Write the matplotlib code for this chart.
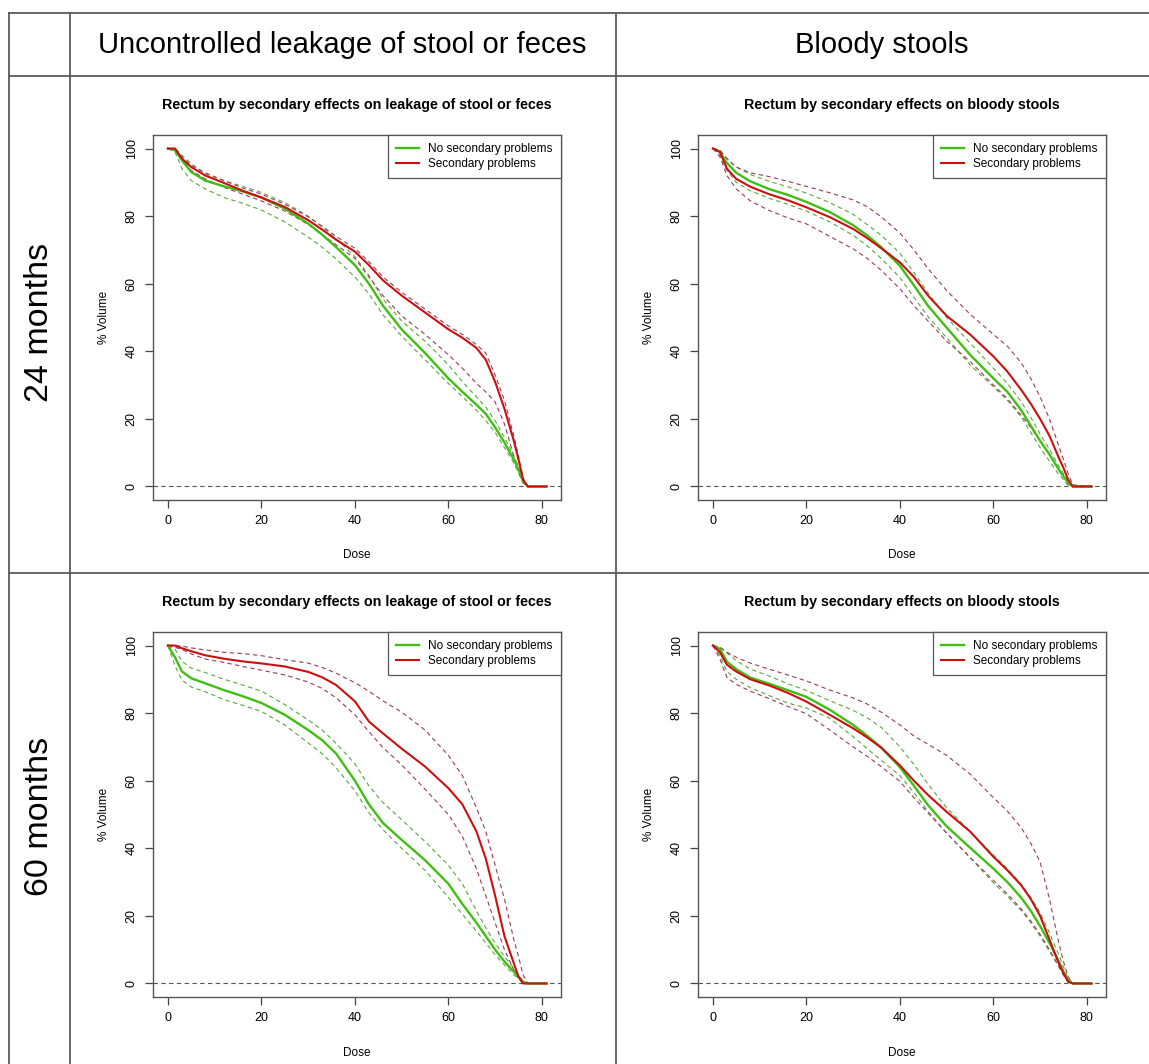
import matplotlib.pyplot as plt

plt.rcParams['font.family'] = ['Liberation Sans', 'DejaVu Sans']

# dose grid shared by every curve
dose = [0, 1.5, 3, 5, 8, 12, 16, 20, 25, 30, 33, 36, 40, 43, 46, 50, 55, 60, 63, 66, 68, 70, 72, 74, 75, 76, 77, 81]

# 24 months, leakage of stool or feces
leak24_no = [100, 99.5, 96.5, 93, 90.5, 88.8, 87.3, 85.5, 82.2, 77.8, 74.5, 70.8, 65.5, 60, 53.5, 46.5, 39.5, 32, 28, 24.2, 21.5, 17.5, 13, 8, 5, 1.5, 0, 0]
leak24_no_lo = [100, 99, 94, 90.5, 88, 85.5, 83.8, 81.8, 78.3, 73.8, 70.8, 67.3, 62, 57, 50.8, 44.5, 37.5, 30.5, 26.6, 22.6, 19.5, 16, 11.5, 7, 4, 1, 0, 0]
leak24_no_hi = [100, 100, 98, 95.5, 92.5, 90.5, 88.8, 87, 84, 80, 76.8, 73.3, 68, 62.5, 55.5, 49, 43, 36, 31, 26.5, 23.5, 19.5, 14.5, 9, 6, 2, 0, 0]
leak24_yes = [100, 100, 97, 94.5, 92, 89.8, 87.5, 85.5, 82.7, 78.8, 76, 73, 69.5, 65.5, 61, 56.5, 51.5, 46.5, 44, 41, 37.5, 31, 23, 13.5, 8, 2, 0, 0]
leak24_yes_lo = [100, 99.5, 96.5, 93.5, 91, 88.5, 86.5, 84.5, 81.5, 77.5, 74.5, 71.5, 67.5, 62, 56.5, 50.5, 45, 39, 35, 30.5, 28, 25, 18.5, 9, 4.5, 1, 0, 0]
leak24_yes_hi = [100, 100, 97.5, 95, 92.8, 90.5, 88.3, 86.5, 83.5, 79.8, 77, 74, 70.5, 66.5, 62, 57.5, 52.5, 47.5, 45, 42, 39.5, 33, 25.5, 15, 9, 2.5, 0, 0]

# 24 months, bloody stools
blood24_no = [100, 99, 95.7, 92.8, 90.3, 88, 86.3, 84.2, 81.2, 77.3, 74.3, 70.8, 65.3, 59.5, 53.5, 47, 39, 32, 28, 22.5, 18, 13.5, 9.5, 5, 3, 1, 0, 0]
blood24_no_lo = [100, 98, 93.5, 90, 87.5, 85.3, 83.5, 81.5, 78.3, 74.3, 71.2, 67.5, 61.8, 56, 50.3, 44, 36, 29.5, 25.5, 20.5, 16, 11.5, 7.5, 3.5, 2, 0.3, 0, 0]
blood24_no_hi = [100, 99.5, 97, 94.5, 92.3, 90.3, 88.7, 86.8, 84, 80.5, 77.5, 74.3, 69, 63.3, 57.3, 50, 42.5, 35, 30.5, 25, 20.5, 15.5, 11, 6, 3.8, 1.5, 0, 0]
blood24_yes = [100, 99, 94, 91, 88.7, 86.5, 84.7, 82.6, 79.7, 76.2, 73.5, 70.5, 66.3, 62, 56.5, 50.5, 45, 38.5, 34, 28.5, 24.5, 20, 15, 8.5, 5.5, 2, 0, 0]
blood24_yes_lo = [100, 97.5, 92, 88, 84.5, 81.7, 79.5, 77.7, 74, 70.3, 67.5, 64, 58.5, 53.5, 49, 43, 37, 30, 26, 21, 17.5, 13.5, 9.5, 5, 3, 0.8, 0, 0]
blood24_yes_hi = [100, 99.5, 97, 94.5, 92.8, 91.7, 90.3, 88.8, 86.9, 84.8, 82.8, 79.8, 75, 70, 64.5, 58, 51, 45, 41.5, 36.5, 32, 26.5, 20, 12, 8, 3.8, 0.5, 0]

# 60 months, leakage of stool or feces
leak60_no = [100, 96.5, 92.3, 90.3, 88.8, 86.8, 85, 83, 79.5, 75, 72, 68, 60, 53, 47.5, 42.5, 36.5, 29.5, 23.5, 18, 14, 10, 6.5, 3.5, 2, 0.5, 0, 0]
leak60_no_lo = [100, 94, 89.8, 87.7, 86.3, 84, 82.3, 80.5, 76.5, 71.2, 68, 63.8, 57, 50.5, 45.5, 40, 33.5, 25.5, 20.5, 15.5, 12, 8.5, 5.5, 2.5, 1.5, 0, 0, 0]
leak60_no_hi = [100, 99, 95.3, 93.3, 92, 90, 88.3, 86.5, 82.5, 78, 75, 71, 65, 58.5, 53.5, 48.5, 42, 35, 29.5, 21.5, 16.5, 12, 8, 4.5, 2.5, 0.5, 0, 0]
leak60_yes = [100, 100, 99.2, 98.3, 97.1, 96.1, 95.3, 94.7, 93.8, 92.2, 90.6, 88.3, 83.5, 77.5, 74, 69.5, 64.2, 57.8, 53, 45, 37, 26, 14, 6, 2, 0, 0, 0]
leak60_yes_lo = [100, 99.5, 98.8, 97.5, 96, 95, 93.8, 92.7, 91.3, 89.2, 87.3, 84.5, 79.5, 74.5, 69.8, 64.7, 57.5, 50, 43.5, 34, 26, 18, 10, 4, 1.5, 0, 0, 0]
leak60_yes_hi = [100, 100, 99.8, 99.3, 98.7, 98, 97.6, 97, 95.8, 94.8, 93.5, 91.8, 89, 86.5, 83.6, 80.3, 75, 67.5, 61.5, 52, 45, 35, 25, 13, 8, 2.5, 0, 0]

# 60 months, bloody stools
blood60_no = [100, 99, 95.2, 93, 90.5, 88.7, 86.8, 84.8, 81, 76.5, 73.3, 69.8, 64, 58.5, 52.8, 46.5, 40.2, 34, 30, 25.3, 21.5, 17, 12, 6.5, 3.5, 1, 0, 0]
blood60_no_lo = [100, 97, 92.3, 90, 87.5, 85.2, 83, 81.5, 78.5, 73, 69.5, 66, 61.5, 56.5, 51, 44.5, 37.3, 29.8, 25.8, 21.5, 18, 14, 9.5, 5, 2.5, 0.5, 0, 0]
blood60_no_hi = [100, 99.5, 97.8, 95.5, 93, 91, 88.7, 86.7, 83.7, 80.8, 78.6, 75.8, 70, 64.8, 59, 52, 45, 38, 34, 29.3, 25.5, 21, 15, 8.5, 5, 1.5, 0, 0]
blood60_yes = [100, 98, 94.3, 92.3, 90, 88.2, 86, 83.4, 79.5, 75.5, 72.8, 69.8, 64.5, 60, 55.8, 50.8, 45, 37.5, 33.5, 29, 25, 20, 13, 6, 3, 0.5, 0, 0]
blood60_yes_lo = [100, 96, 90.5, 88.5, 86.5, 84.3, 82, 79.8, 75, 70, 67.2, 64.2, 59.8, 55, 50.5, 44.5, 37.3, 30.5, 26.5, 22, 18.5, 14.5, 10, 5, 2.5, 0.5, 0, 0]
blood60_yes_hi = [100, 99.5, 98, 96.5, 94.8, 93, 91.3, 89.5, 86.8, 84.5, 82.7, 80.3, 76.5, 73.2, 70.8, 67.5, 62, 55, 51, 46, 41.5, 36, 25, 12, 6.5, 2, 0, 0]

col_headers = ['Uncontrolled leakage of stool or feces', 'Bloody stools']
row_headers = ['24 months', '60 months']
panel_titles = ['Rectum by secondary effects on leakage of stool or feces',
                'Rectum by secondary effects on bloody stools']
legend_labels = ['No secondary problems', 'Secondary problems']

panels = [
    [(leak24_no, leak24_no_lo, leak24_no_hi, leak24_yes, leak24_yes_lo, leak24_yes_hi),
     (blood24_no, blood24_no_lo, blood24_no_hi, blood24_yes, blood24_yes_lo, blood24_yes_hi)],
    [(leak60_no, leak60_no_lo, leak60_no_hi, leak60_yes, leak60_yes_lo, leak60_yes_hi),
     (blood60_no, blood60_no_lo, blood60_no_hi, blood60_yes, blood60_yes_lo, blood60_yes_hi)],
]

GREEN = '#3fbf12'
RED = '#cc1010'
GREEN_D = '#5aa83c'
RED_D = '#9c3a5c'
GRID = '#5a5a5a'

W, H = 1149, 1064
fig = plt.figure(figsize=(W / 100, H / 100), dpi=100)

# table frame drawn in pixel coordinates
bg = fig.add_axes([0, 0, 1, 1])
bg.set_xlim(0, W)
bg.set_ylim(H, 0)
bg.axis('off')
for y in [13, 76, 573]:
    bg.plot([9, W], [y, y], color=GRID, lw=1.3)
for x in [9, 70, 615.5]:
    bg.plot([x, x], [13, H], color=GRID, lw=1.3)

bg.text(342.5, 45, col_headers[0], ha='center', va='center', fontsize=21)
bg.text(882, 45, col_headers[1], ha='center', va='center', fontsize=21)
bg.text(40, 322, row_headers[0], ha='center', va='center', fontsize=24.5, rotation=90)
bg.text(40, 816, row_headers[1], ha='center', va='center', fontsize=24.5, rotation=90)

ax_left = [153, 698]
ax_top = [135, 632]
ax_w, ax_h = 408, 365

for r in range(2):
    for c in range(2):
        no, no_lo, no_hi, yes, yes_lo, yes_hi = panels[r][c]
        ax = fig.add_axes([ax_left[c] / W, 1 - (ax_top[r] + ax_h) / H, ax_w / W, ax_h / H])
        ax.axhline(0, color='#555555', lw=0.8, ls=(0, (4, 3)))
        for s in (no_lo, no_hi):
            ax.plot(dose, s, color=GREEN_D, lw=0.8, ls=(0, (4, 3)))
        for s in (yes_lo, yes_hi):
            ax.plot(dose, s, color=RED_D, lw=0.8, ls=(0, (4, 3)))
        ax.plot(dose, no, color=GREEN, lw=1.7, label=legend_labels[0])
        ax.plot(dose, yes, color=RED, lw=1.5, label=legend_labels[1])

        ax.set_xlim(-3.2, 84.1)
        ax.set_ylim(-4, 104)
        ax.set_xticks([0, 20, 40, 60, 80])
        ax.set_yticks([0, 20, 40, 60, 80, 100])
        ax.tick_params(length=6, width=0.9, color='#444444', labelsize=9, pad=5)
        ax.tick_params(axis='y', labelrotation=90)
        for t in ax.get_yticklabels():
            t.set_va('center')
        for sp in ax.spines.values():
            sp.set_color('#555555')
            sp.set_linewidth(1.0)

        ax.set_title(panel_titles[c], fontsize=10.3, fontweight='bold', pad=19)
        ax.set_xlabel('Dose', fontsize=8.5, labelpad=16)
        ax.set_ylabel('% Volume', fontsize=8.5, labelpad=11)

        leg = ax.legend(loc='upper right', borderaxespad=0, fancybox=False,
                        framealpha=1, edgecolor='#555555', fontsize=8.5,
                        handlelength=1.9, handletextpad=0.8, labelspacing=0.25,
                        borderpad=0.7)
        leg.get_frame().set_linewidth(0.9)

fig.savefig('out.png', dpi=100)
